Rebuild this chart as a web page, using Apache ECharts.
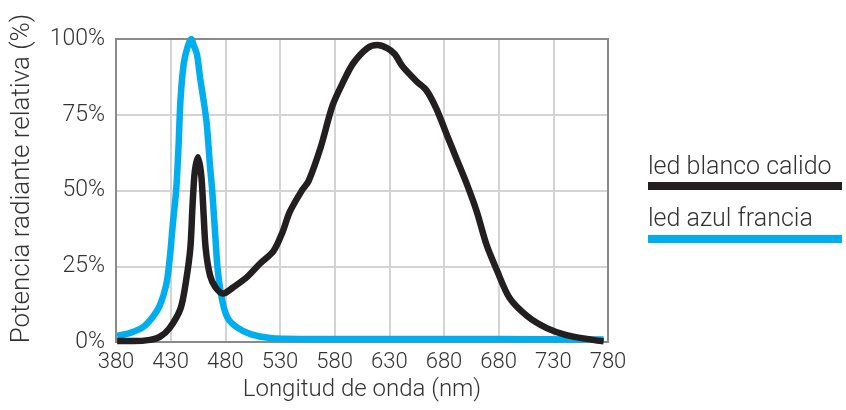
<!DOCTYPE html>
<html>
<head>
<meta charset="utf-8">
<script src="https://cdn.jsdelivr.net/npm/echarts@6/dist/echarts.min.js"></script>
<style>
  html, body { margin: 0; padding: 0; background: #fff; }
  #chart { width: 846px; height: 410px; }
</style>
</head>
<body>
<div id="chart"></div>
<script>
// Tick labels along the wavelength axis (one per grid column, 50 nm steps)
const tickLabels = ['380', '430', '480', '530', '580', '630', '680', '680', '730', '780'];
const yTicks = [0, 25, 50, 75, 100];

// Warm white LED spectrum: [wavelength (nm), relative radiant power (%)]
const warmWhiteNm  = [381, 396, 411, 420, 429, 439, 444, 448, 450, 452, 455, 458, 460, 462, 466, 471, 478, 487, 500, 512, 524, 532, 539, 550, 556, 567, 578, 588, 597, 610, 619, 628, 635, 642, 655, 664, 673, 683, 692, 701, 710, 719, 728, 740, 756, 774, 792, 816, 826];
const warmWhitePct = [0.3, 0.3, 0.7, 1.7, 4.6, 11, 20, 31, 45, 56, 61, 55, 43, 31, 22, 18, 16, 18, 21.5, 26, 30, 36, 43, 50, 53, 64, 78, 86, 92, 97, 98, 97, 95, 91, 86, 83, 77, 68, 60, 52, 43, 32, 24, 14.5, 8.6, 4.6, 2.3, 0.7, 0.2];

// French blue LED spectrum
const blueNm  = [381, 393, 405, 413, 420, 426, 429, 432, 435, 437, 439, 442, 446, 449, 451, 454, 457, 460, 463, 466, 468, 471, 473, 477, 482, 490, 503, 521, 548, 640, 731, 826];
const bluePct = [2.0, 3, 5, 8, 12, 19, 27, 39, 50, 63, 80, 92, 98, 100, 98, 95, 87, 80, 72, 58, 50, 34, 24, 14, 8, 5, 2.6, 1.3, 1, 1, 1, 0.8];

const seriesNames = ['led blanco calido', 'led azul francia'];
const seriesColors = ['#231f20', '#00aeef'];

const zip = (xs, ys) => xs.map((x, i) => [x, ys[i]]);

const FONT = 'Roboto';
const TEXT_COLOR = '#333';

const chart = echarts.init(document.getElementById('chart'), null, { renderer: 'canvas' });

chart.setOption({
  animation: false,
  backgroundColor: '#fff',
  grid: { left: 116, top: 39, right: 238, bottom: 68, containLabel: false },
  xAxis: {
    type: 'value',
    min: 380,
    max: 830,
    interval: 50,
    name: 'Longitud de onda (nm)',
    nameLocation: 'middle',
    nameGap: 32,
    nameTextStyle: { fontFamily: FONT, fontWeight: 300, fontSize: 24, color: TEXT_COLOR },
    axisLine: { show: true, lineStyle: { color: '#8a8a8a', width: 2 } },
    axisTick: { show: false },
    axisLabel: {
      fontFamily: FONT, fontWeight: 300, fontSize: 22, color: TEXT_COLOR, margin: 9,
      formatter: v => tickLabels[Math.round((v - 380) / 50)]
    },
    splitLine: { show: true, lineStyle: { color: '#d4d4d4', width: 2 } }
  },
  yAxis: {
    type: 'value',
    min: 0,
    max: 100,
    interval: 25,
    name: 'Potencia radiante relativa (%)',
    nameLocation: 'middle',
    nameGap: 81,
    nameTextStyle: { fontFamily: FONT, fontWeight: 300, fontSize: 26, color: TEXT_COLOR, padding: [0, 0, 0, 24] },
    axisLine: { show: true, lineStyle: { color: '#8a8a8a', width: 2 } },
    axisTick: { show: false },
    axisLabel: {
      fontFamily: FONT, fontWeight: 300, fontSize: 23, color: TEXT_COLOR, margin: 11,
      padding: [0, 0, 14, 0],
      formatter: v => yTicks.includes(v) ? v + '%' : ''
    },
    splitLine: { show: true, lineStyle: { color: '#d4d4d4', width: 2 } }
  },
  series: [
    {
      name: seriesNames[1],
      type: 'line',
      data: zip(blueNm, bluePct),
      smooth: 0.3,
      showSymbol: false,
      lineStyle: { color: seriesColors[1], width: 6.5 },
      z: 2
    },
    {
      name: seriesNames[0],
      type: 'line',
      data: zip(warmWhiteNm, warmWhitePct),
      smooth: 0.3,
      showSymbol: false,
      lineStyle: { color: seriesColors[0], width: 6.5 },
      z: 3
    }
  ],
  graphic: [
    // border on the top and right of the plotting area
    { type: 'rect', shape: { x: 116, y: 39, width: 492, height: 303 }, style: { fill: 'none', stroke: '#8a8a8a', lineWidth: 2 }, z: 1, silent: true },
    // legend: label above a thick swatch bar
    { type: 'text', left: 648, top: 155, style: { text: seriesNames[0], fontFamily: FONT, fontWeight: 300, fontSize: 25, fill: TEXT_COLOR } },
    { type: 'rect', shape: { x: 648, y: 182, width: 194, height: 8 }, style: { fill: seriesColors[0] } },
    { type: 'text', left: 648, top: 207, style: { text: seriesNames[1], fontFamily: FONT, fontWeight: 300, fontSize: 25, fill: TEXT_COLOR } },
    { type: 'rect', shape: { x: 648, y: 235, width: 194, height: 8 }, style: { fill: seriesColors[1] } }
  ]
});
</script>
</body>
</html>
